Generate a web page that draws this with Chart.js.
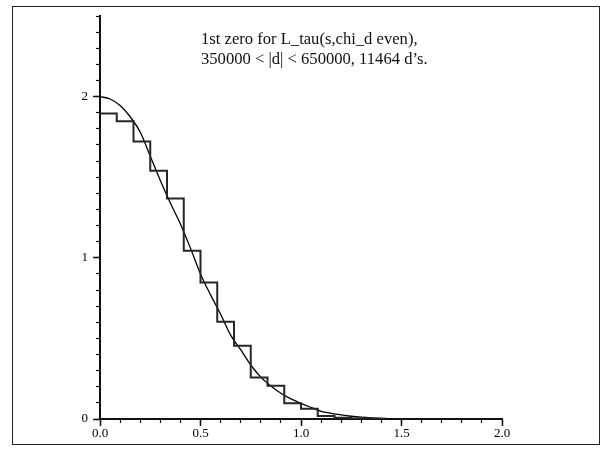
<!DOCTYPE html>
<html><head><meta charset="utf-8">
<script src="https://cdn.jsdelivr.net/npm/chart.js@4"></script>
<style>
html,body{margin:0;padding:0;background:#fff;}
#wrap{position:relative;width:602px;height:449px;overflow:hidden;}
#frame{position:absolute;left:12px;top:6px;width:586px;height:437px;border:1px solid #222;pointer-events:none;}
#note{position:absolute;left:201px;top:29px;font-family:'Liberation Serif',serif;font-size:16.6px;line-height:20px;color:#111;white-space:nowrap;}
canvas{position:absolute;left:0;top:0;}
</style></head><body>
<div id="wrap"><canvas id="c" width="602" height="449"></canvas><div id="frame"></div><div id="note">1st zero for L_tau(s,chi_d even),<br>350000 &lt; |d| &lt; 650000, 11464 d’s.</div></div>
<script>
// Histogram: left edges of bins (width 1/12) and heights
const binLefts = [0, 0.0833, 0.1667, 0.25, 0.3333, 0.4167, 0.5, 0.5833, 0.6667, 0.75, 0.8333, 0.9167, 1.0, 1.0833, 1.1667, 1.25, 1.3333];
const binHeights = [1.895, 1.847, 1.722, 1.54, 1.368, 1.043, 0.847, 0.604, 0.455, 0.257, 0.206, 0.097, 0.064, 0.018, 0.007, 0.003, 0.001];
const binEnd = 1.4167;
// Smooth curve
const curveX = [0, 0.05, 0.1, 0.15, 0.2, 0.25, 0.3, 0.35, 0.4, 0.45, 0.5, 0.55, 0.6, 0.65, 0.7, 0.75, 0.8, 0.85, 0.9, 0.95, 1.0, 1.05, 1.1, 1.15, 1.2, 1.25, 1.3, 1.35, 1.4, 1.45];
const curveY = [2.0, 1.985, 1.945, 1.875, 1.78, 1.63, 1.48, 1.34, 1.21, 1.06, 0.9, 0.77, 0.65, 0.52, 0.43, 0.335, 0.26, 0.205, 0.16, 0.125, 0.097, 0.072, 0.048, 0.035, 0.025, 0.017, 0.011, 0.007, 0.004, 0.002];
// Tick labels
const xTickLabels = ['0.0', '0.5', '1.0', '1.5', '2.0'];
const yTickLabels = ['0', '1', '2'];

const histData = binLefts.map((x, i) => ({x: x, y: binHeights[i]}));
histData.push({x: binEnd, y: 0});
const curveData = curveX.map((x, i) => ({x: x, y: curveY[i]}));

Chart.defaults.font.family = "'Liberation Serif', serif";
Chart.defaults.color = '#000';

new Chart(document.getElementById('c'), {
  type: 'scatter',
  data: {
    datasets: [
      {data: histData, showLine: true, stepped: true, borderColor: '#262626', borderWidth: 2, pointRadius: 0, fill: false, xAxisID: 'x', yAxisID: 'y'},
      {data: curveData, showLine: true, cubicInterpolationMode: 'monotone', borderColor: '#000', borderWidth: 1.3, pointRadius: 0, fill: false, xAxisID: 'x', yAxisID: 'y'}
    ]
  },
  options: {
    responsive: false,
    animation: false,
    layout: {padding: {left: 0, top: 16, right: 100, bottom: 0}},
    plugins: {legend: {display: false}, tooltip: {enabled: false}},
    scales: {
      x: {
        type: 'linear', position: 'bottom', min: 0, max: 2,
        ticks: {stepSize: 0.5, autoSkip: false, padding: 0, maxRotation: 0, font: {size: 13}, color: '#000',
          callback: (v) => { const i = Math.round(v / 0.5); return Math.abs(v - i * 0.5) < 1e-6 ? xTickLabels[i] : ''; }},
        grid: {drawOnChartArea: false, tickLength: 7, tickColor: '#111', tickWidth: 1.5},
        border: {display: true, color: '#111', width: 2},
        afterFit: (s) => { s.height = 30; }
      },
      x2: {
        axis: 'x', type: 'linear', position: {y: 0}, min: 0, max: 2,
        ticks: {stepSize: 0.1, autoSkip: false, display: false},
        grid: {drawOnChartArea: false, tickLength: 4, tickColor: '#111', tickWidth: 1.2},
        border: {display: false}
      },
      y: {
        type: 'linear', position: 'left', min: 0, max: 2.5,
        ticks: {stepSize: 1, includeBounds: false, autoSkip: false, padding: 5, font: {size: 13}, color: '#000',
          callback: (v) => { const i = Math.round(v); return Math.abs(v - i) < 1e-6 && yTickLabels[i] !== undefined ? yTickLabels[i] : ''; }},
        grid: {drawOnChartArea: false, tickLength: 7, tickColor: '#111', tickWidth: 1.5},
        border: {display: true, color: '#111', width: 2},
        afterFit: (s) => { s.width = 100; }
      },
      y2: {
        axis: 'y', type: 'linear', position: {x: 0}, min: 0, max: 2.5,
        ticks: {stepSize: 0.1, autoSkip: false, display: false},
        grid: {drawOnChartArea: false, tickLength: 4, tickColor: '#111', tickWidth: 1.2},
        border: {display: false}
      }
    }
  }
});
</script>
</body></html>
